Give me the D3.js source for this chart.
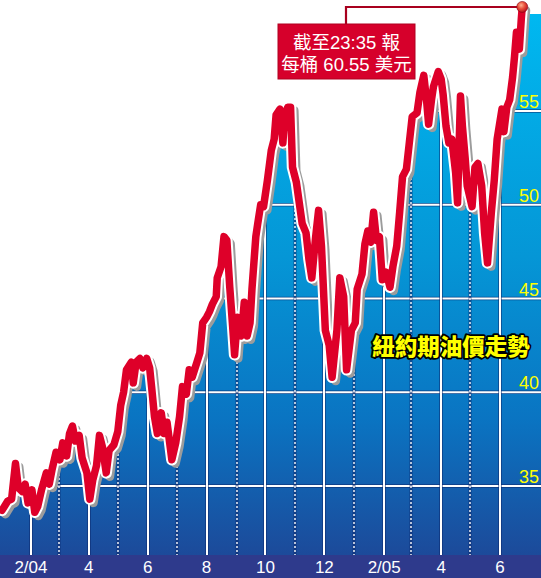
<!DOCTYPE html>
<html><head><meta charset="utf-8">
<script src="https://cdn.jsdelivr.net/npm/d3@7"></script>
<style>html,body{margin:0;padding:0;background:#fff;}svg{display:block;}</style>
</head><body>
<script>
const dates = ["2004-01-02","2004-01-08","2004-01-12","2004-01-16","2004-01-19","2004-01-23","2004-01-26","2004-01-29","2004-02-02","2004-02-05","2004-02-08","2004-02-12","2004-02-17","2004-02-20","2004-02-23","2004-02-27","2004-03-02","2004-03-05","2004-03-09","2004-03-12","2004-03-15","2004-03-18","2004-03-22","2004-03-25","2004-03-30","2004-04-02","2004-04-05","2004-04-09","2004-04-12","2004-04-15","2004-04-19","2004-04-22","2004-04-27","2004-05-01","2004-05-04","2004-05-07","2004-05-10","2004-05-15","2004-05-17","2004-05-20","2004-05-24","2004-05-27","2004-05-31","2004-06-03","2004-06-05","2004-06-08","2004-06-11","2004-06-15","2004-06-18","2004-06-21","2004-06-26","2004-06-30","2004-07-04","2004-07-07","2004-07-11","2004-07-14","2004-07-17","2004-07-22","2004-07-25","2004-07-28","2004-08-01","2004-08-04","2004-08-07","2004-08-11","2004-08-12","2004-08-16","2004-08-19","2004-08-22","2004-08-25","2004-08-28","2004-08-30","2004-09-02","2004-09-06","2004-09-09","2004-09-12","2004-09-15","2004-09-17","2004-09-21","2004-09-23","2004-09-26","2004-09-29","2004-10-03","2004-10-07","2004-10-10","2004-10-12","2004-10-16","2004-10-19","2004-10-21","2004-10-24","2004-10-27","2004-10-29","2004-11-02","2004-11-05","2004-11-08","2004-11-12","2004-11-15","2004-11-18","2004-11-22","2004-11-25","2004-11-28","2004-12-02","2004-12-06","2004-12-09","2004-12-14","2004-12-17","2004-12-21","2004-12-24","2004-12-29","2005-01-02","2005-01-04","2005-01-09","2005-01-12","2005-01-15","2005-01-18","2005-01-21","2005-01-24","2005-01-27","2005-01-30","2005-02-03","2005-02-07","2005-02-10","2005-02-14","2005-02-17","2005-02-20","2005-02-24","2005-02-27","2005-03-02","2005-03-07","2005-03-10","2005-03-14","2005-03-17","2005-03-19","2005-03-22","2005-03-24","2005-03-29","2005-04-01","2005-04-03","2005-04-06","2005-04-09","2005-04-12","2005-04-16","2005-04-18","2005-04-21","2005-04-23","2005-04-26","2005-04-28","2005-05-03","2005-05-06","2005-05-09","2005-05-13","2005-05-16","2005-05-19","2005-05-23","2005-05-26","2005-05-29","2005-06-03","2005-06-05","2005-06-08","2005-06-11","2005-06-14","2005-06-16","2005-06-18","2005-06-21","2005-06-23","2005-06-24"];
const prices = [33.7,34.2,34.3,36.2,34.9,34.7,35.1,34.1,34.8,33.6,33.9,34.8,35.7,35.1,35.9,36.8,36.4,37.3,36.6,37.8,38.2,37.4,37.7,36.5,35.7,34.3,35.3,36.1,37.7,37.1,35.7,36.9,37.2,37.9,39.3,40.0,41.2,41.6,40.5,41.6,41.8,41.3,41.8,41.3,40.3,38.7,37.8,38.9,37.8,38.4,36.4,37.3,38.7,40.3,39.9,41.2,40.8,41.6,42.1,43.7,44.0,44.3,44.7,45.1,46.1,46.7,48.3,48.1,45.6,43.5,42.0,44.0,43.0,44.8,43.0,43.7,45.5,48.3,49.0,50.0,49.9,51.3,52.9,53.5,54.8,55.1,53.3,54.7,55.2,55.2,52.0,51.2,50.1,49.0,48.5,47.1,46.1,48.3,49.7,47.8,43.3,42.5,40.8,43.3,46.1,45.1,41.2,43.3,43.7,45.5,46.3,47.9,48.6,48.0,49.6,48.1,48.3,46.0,46.4,45.6,46.7,47.8,49.6,51.5,51.9,53.3,54.7,54.9,56.0,56.9,55.5,54.3,55.6,56.3,57.1,56.7,55.9,54.2,53.3,53.5,51.7,50.1,55.8,54.2,52.4,51.0,49.9,52.0,52.2,51.0,48.5,46.9,49.6,51.3,53.5,55.1,53.9,55.2,55.6,56.8,57.9,59.2,58.3,59.9,60.55];
const yTicks = [35,40,45,50,55];
const monthStarts = ["2004-02-01","2004-03-01","2004-04-01","2004-05-01","2004-06-01","2004-07-01","2004-08-01","2004-09-01","2004-10-01","2004-11-01","2004-12-01","2005-01-01","2005-02-01","2005-03-01","2005-04-01","2005-05-01","2005-06-01"];
const tickLabelDates = ["2004-02-01","2004-04-01","2004-06-01","2004-08-01","2004-10-01","2004-12-01","2005-02-01","2005-04-01","2005-06-01"];
const tickLabels = ["2/04","4","6","8","10","12","2/05","4","6"];
const titleText = "紐約期油價走勢";
const noteLines = ["截至23:35 報","每桶 60.55 美元"];

const W = 541, H = 578;
const parse = d3.utcParse("%Y-%m-%d");
const data = dates.map((d,i)=>({date:parse(d), v:prices[i]}));
const x = d3.scaleUtc().domain([parse("2004-01-01"), parse("2005-07-01")]).range([1, 529]);
const y = d3.scaleLinear().domain([35,55]).range([486,111]);

const svg = d3.select("body").append("svg").attr("width",W).attr("height",H);
const defs = svg.append("defs");
const g = defs.append("linearGradient").attr("id","bg").attr("x1",0).attr("y1",0).attr("x2",0).attr("y2",1);
[[0,"#00b8f0"],[0.45,"#0596d6"],[0.75,"#0a74c2"],[1,"#1c4a9a"]].forEach(s=>g.append("stop").attr("offset",s[0]).attr("stop-color",s[1]));
const rg = defs.append("radialGradient").attr("id","dot").attr("cx","40%").attr("cy","35%").attr("r","65%");
[[0,"#ffb090"],[0.5,"#e8503a"],[1,"#b8101e"]].forEach(s=>rg.append("stop").attr("offset",s[0]).attr("stop-color",s[1]));

const plotTop = 14, plotBottom = 555;
svg.append("rect").attr("x",0).attr("y",plotTop).attr("width",W).attr("height",plotBottom-plotTop).attr("fill","url(#bg)");

// gridlines
const grid = svg.append("g");
yTicks.forEach(t=>{
  grid.append("line").attr("x1",0).attr("x2",W).attr("y1",y(t)).attr("y2",y(t)).attr("stroke","#0b2a6e").attr("stroke-opacity",0.7).attr("stroke-width",3.5);
  grid.append("line").attr("x1",0).attr("x2",W).attr("y1",y(t)).attr("y2",y(t)).attr("stroke","#fff").attr("stroke-width",2);
});
monthStarts.forEach(ds=>{
  const d = parse(ds); const xx = Math.round(x(d));
  const solid = d.getUTCMonth()%2===1;
  if (solid){
    grid.append("line").attr("x1",xx).attr("x2",xx).attr("y1",plotTop).attr("y2",plotBottom).attr("stroke","#0b2a6e").attr("stroke-opacity",0.7).attr("stroke-width",3.5);
    grid.append("line").attr("x1",xx).attr("x2",xx).attr("y1",plotTop).attr("y2",plotBottom).attr("stroke","#fff").attr("stroke-width",2);
  } else {
    grid.append("line").attr("x1",xx).attr("x2",xx).attr("y1",plotTop).attr("y2",plotBottom).attr("stroke","#0b2a6e").attr("stroke-opacity",0.6).attr("stroke-width",3);
    grid.append("line").attr("x1",xx).attr("x2",xx).attr("y1",plotTop).attr("y2",plotBottom).attr("stroke","#fff").attr("stroke-width",1.4).attr("stroke-dasharray","2,2");
  }
});

// white mask above line
const last = data[data.length-1];
const area = d3.area().x(d=>x(d.date)).y0(0).y1(d=>y(d.v));
svg.append("path").datum(data).attr("d",area).attr("fill","#fff");
svg.append("rect").attr("x",0).attr("y",0).attr("width",x(data[0].date)+0.5).attr("height",y(data[0].v)).attr("fill","#fff");
svg.append("rect").attr("x",0).attr("y",0).attr("width",W).attr("height",plotTop).attr("fill","#fff");

// line with shadow & outline
const line = d3.line().x(d=>x(d.date)).y(d=>y(d.v));
svg.append("path").datum(data).attr("d",line).attr("transform","translate(3.5,3.5)").attr("fill","none").attr("stroke","#9c9c9c").attr("stroke-width",9).attr("stroke-linejoin","round").attr("stroke-linecap","round");
svg.append("path").datum(data).attr("d",line).attr("fill","none").attr("stroke","#fff").attr("stroke-width",11.5).attr("stroke-linejoin","round").attr("stroke-linecap","round");
svg.append("path").datum(data).attr("d",line).attr("fill","none").attr("stroke","#de0029").attr("stroke-width",7.5).attr("stroke-linejoin","round").attr("stroke-linecap","round");

// y labels
yTicks.forEach(t=>{
  svg.append("text").attr("x",539).attr("y",y(t)-3).attr("text-anchor","end")
    .attr("font-family","'Liberation Sans Narrow','Liberation Sans',Arial,sans-serif").attr("font-size",18).attr("fill","#ffff00").text(t);
});

// axis strip
svg.append("rect").attr("x",0).attr("y",plotBottom).attr("width",W).attr("height",H-plotBottom).attr("fill","#2e3a8c");
tickLabelDates.forEach((ds,i)=>{
  svg.append("text").attr("x",x(parse(ds))).attr("y",573).attr("text-anchor","middle")
    .attr("font-family","'Liberation Sans',Arial,sans-serif").attr("font-size",17).attr("fill","#fff").text(tickLabels[i]);
});

// title
svg.append("text").attr("x",451).attr("y",355).attr("text-anchor","middle")
  .attr("font-family","'Noto Sans CJK TC','Noto Sans CJK SC',sans-serif").attr("font-weight","900").attr("font-size",22.5)
  .attr("fill","#ffff00").attr("stroke","#000").attr("stroke-width",3.5).attr("paint-order","stroke").attr("stroke-linejoin","round")
  .text(titleText);

// annotation
const lx = x(last.date), ly = y(last.v);
svg.append("path").attr("d",`M346,24 V7 H${lx}`).attr("fill","none").attr("stroke","#a8001e").attr("stroke-width",2.2);
svg.append("rect").attr("x",278).attr("y",24).attr("width",137).attr("height",55).attr("fill","#d6002b").attr("stroke","#b00020").attr("stroke-width",1);
noteLines.forEach((t,i)=>{
  svg.append("text").attr("x",346.5).attr("y",49+i*22).attr("text-anchor","middle")
    .attr("font-family","'Liberation Sans','Noto Sans CJK TC',sans-serif").attr("font-size",18.5).attr("fill","#fff").text(t);
});
svg.append("circle").attr("cx",lx).attr("cy",ly).attr("r",5.5).attr("fill","url(#dot)").attr("stroke","#8a0010").attr("stroke-width",0.6);
</script>
</body></html>
